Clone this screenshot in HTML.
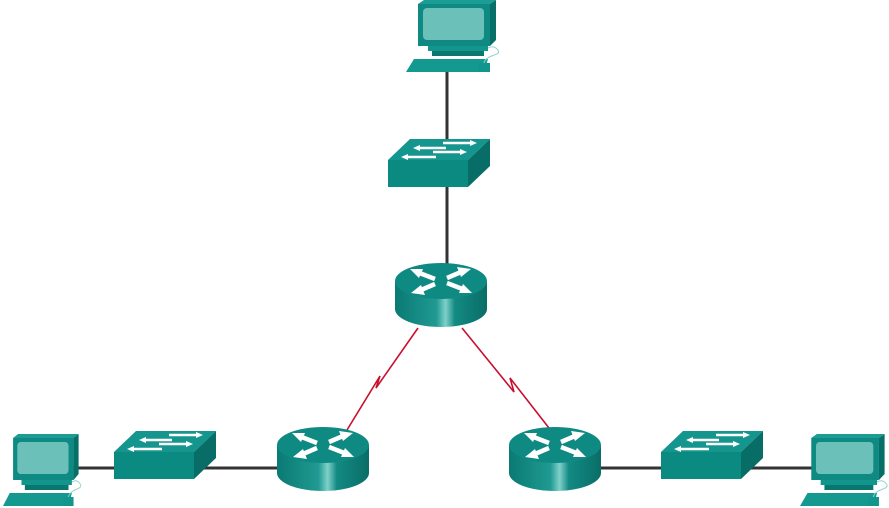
<!DOCTYPE html>
<html><head><meta charset="utf-8"><style>html,body{margin:0;padding:0;background:#fff;}svg{display:block}</style></head>
<body>
<svg width="889" height="508" viewBox="0 0 889 508" xmlns="http://www.w3.org/2000/svg">
<defs>
<linearGradient id="rb" x1="0" x2="1" y1="0" y2="0">
<stop offset="0" stop-color="#0a7a73"/><stop offset="0.45" stop-color="#1f9a92"/><stop offset="0.55" stop-color="#7fd0c9"/><stop offset="0.65" stop-color="#128a83"/><stop offset="1" stop-color="#0a6d67"/>
</linearGradient>
<g id="router">
<path d="M-46 0 L-46 28 A46 18 0 0 0 46 28 L46 0 Z" fill="url(#rb)"/>
<ellipse cx="0" cy="0" rx="46" ry="18" fill="#0f8a83"/>
<g stroke="#fff" stroke-width="4.5" fill="#fff">
<line x1="-24" y1="-9" x2="-6" y2="-2"/><line x1="24" y1="9" x2="6" y2="2"/>
<line x1="6" y1="-3" x2="20" y2="-9"/><line x1="-6" y1="3" x2="-20" y2="9"/>
</g>
<g fill="#fff">
<polygon points="-31,-12 -22,-3 -18,-12"/><polygon points="31,12 22,3 18,12"/>
<polygon points="30,-12 16,-14 20,-4"/><polygon points="-30,12 -16,14 -20,4"/>
</g>
</g>
<g id="switch">
<polygon points="0,21 22,0 102,0 80,21" fill="#14968f"/>
<rect x="0" y="21" width="80" height="27" fill="#0b8a82"/>
<polygon points="80,21 102,0 102,27 80,48" fill="#086d67"/>
<g stroke="#fff" stroke-width="2.5">
<line x1="55" y1="4" x2="85" y2="4"/><line x1="30" y1="9" x2="58" y2="9"/>
<line x1="45" y1="13" x2="75" y2="13"/><line x1="18" y1="18" x2="48" y2="18"/>
</g>
<g fill="#fff"><polygon points="89,4 82,1 82,7"/><polygon points="25,9 32,6 32,12"/><polygon points="79,13 72,10 72,16"/><polygon points="13,18 20,15 20,21"/></g>
</g>
<g id="pc">
<polygon points="12,4 18,0 90,0 84,4" fill="#1b9c94"/>
<polygon points="84,4 90,0 90,40 84,46" fill="#086e68"/>
<rect x="12" y="4" width="72" height="42" fill="#0e8a83"/>
<rect x="17" y="8" width="61" height="32" rx="4" fill="#6bc0ba"/>
<rect x="22" y="46" width="60" height="5" fill="#12958d"/>
<rect x="26" y="51" width="52" height="5" fill="#0a7670"/>
<polygon points="0,72 8,59 82,59 78,72" fill="#139990"/>
<rect x="72" y="63" width="12" height="9" fill="#12958d"/>
<path d="M78 63 C 80 54, 96 56, 92 50 C 88 45, 84 47, 82 48" stroke="#8fd3ce" stroke-width="1" fill="none"/>
</g>
</defs>
<g stroke="#333" stroke-width="3">
<line x1="447" y1="70" x2="447" y2="265"/>
<line x1="70" y1="468" x2="330" y2="468"/>
<line x1="560" y1="468" x2="812" y2="468"/>
</g>
<g stroke="#c8102e" stroke-width="1.6" fill="none">
<polyline points="418,328 376,388 380,376 347,430"/>
<polyline points="462,328 514,392 510,378 549,428"/>
</g>
<use href="#pc" x="406" y="0"/>
<use href="#switch" x="388" y="139"/>
<use href="#router" x="441" y="281"/>
<use href="#router" x="323" y="445"/>
<use href="#router" x="555" y="445"/>
<use href="#switch" x="114" y="431"/>
<use href="#switch" x="661" y="431"/>
<g transform="translate(3,434) scale(0.84,1)"><use href="#pc"/></g>
<g transform="translate(800,434) scale(0.94,1)"><use href="#pc"/></g>
</svg>
</body></html>
